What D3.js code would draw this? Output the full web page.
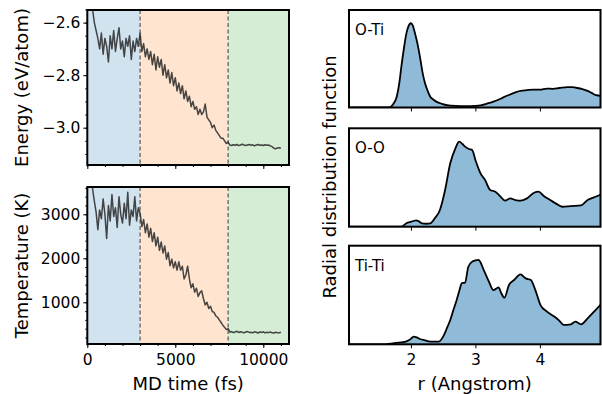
<!DOCTYPE html>
<html>
<head>
<meta charset="utf-8">
<script src="https://cdn.jsdelivr.net/npm/d3@7"></script>
<style>
  body { margin: 0; background: #fff; }
  svg { font-family: "DejaVu Sans", sans-serif; }
</style>
</head>
<body>
<svg id="chart" width="602" height="394"></svg>
<script>
// MD run, one sample every 100 fs starting at 0 fs
const timeStep = 100;
const energy = [
  -2.42, -2.47, -2.51, -2.55, -2.60, -2.63, -2.66, -2.70, -2.64, -2.72,
  -2.66, -2.69, -2.75, -2.65, -2.70, -2.63, -2.71, -2.66, -2.62, -2.70,
  -2.67, -2.73, -2.66, -2.69, -2.65, -2.74, -2.67, -2.71, -2.66, -2.69,
  -2.64, -2.71, -2.68, -2.73, -2.70, -2.74, -2.71, -2.76, -2.72, -2.78,
  -2.73, -2.77, -2.74, -2.80, -2.76, -2.81, -2.78, -2.83, -2.79, -2.84,
  -2.81, -2.86, -2.83, -2.87, -2.84, -2.89, -2.86, -2.90, -2.88, -2.92,
  -2.90, -2.93, -2.92, -2.95, -2.93, -2.95, -2.94, -2.91, -2.96, -2.97,
  -2.98, -3.00, -2.99, -3.01, -3.02, -3.03, -3.04, -3.04, -3.05, -3.06,
  -3.055, -3.066, -3.068, -3.065, -3.067, -3.064, -3.068, -3.066, -3.063, -3.066,
  -3.068, -3.066, -3.064, -3.067, -3.065, -3.069, -3.066, -3.064, -3.067, -3.066,
  -3.068, -3.065, -3.067, -3.066, -3.069, -3.072, -3.078, -3.080, -3.077, -3.076,
  -3.077
];
const temperature = [
  3950, 3850, 3720, 3580, 3300, 3050, 2650, 3100, 2900, 3350,
  3000, 2450, 3200, 2850, 3450, 2950, 3150, 2700, 3400, 3000,
  2800, 3250, 2900, 3500, 2750, 3100, 2950, 3400, 2850, 3150,
  3020, 2720, 2880, 2580, 2780, 2480, 2680, 2380, 2580, 2280,
  2480, 2180, 2370, 2120, 2280, 1980, 2130, 1830, 1980, 1780,
  1920, 1730, 1920, 1730, 1820, 1530, 1620, 1820, 1530, 1330,
  1420, 1230, 1320, 1130, 1220, 1260, 1080, 940, 1000, 860,
  910, 790, 770, 690, 660, 600, 540, 480, 430, 380,
  400, 320, 335, 310, 325, 340, 315, 330, 320, 305,
  325, 335, 315, 320, 305, 330, 320, 300, 325, 315,
  330, 305, 320, 310, 325, 305, 300, 320, 310, 305,
  320
];
const phaseEdges = [0, 3000, 8000];
const phaseColors = ["#d2e3f0", "#ffe5cf", "#d5ecd5"];
const timeTicks = [0, 5000, 10000];
const energyTicks = [-2.6, -2.8, -3.0];
const temperatureTicks = [1000, 2000, 3000];

// radial distribution functions
const rdfLabels = ["O-Ti", "O-O", "Ti-Ti"];
const rdfR = [
  [1.00, 1.60, 1.68, 1.72, 1.78, 1.82, 1.85, 1.89, 1.93, 1.96, 2.00, 2.03, 2.06, 2.10, 2.14, 2.18, 2.22, 2.26, 2.30, 2.35,
   2.40, 2.48, 2.56, 2.70, 2.85, 3.00, 3.10, 3.18, 3.28, 3.39, 3.47, 3.54, 3.62, 3.70, 3.80, 3.91, 4.00, 4.11, 4.20, 4.30,
   4.43, 4.50, 4.58, 4.66, 4.74, 4.80, 4.87, 4.96, 5.00],
  [1.00, 1.85, 1.93, 2.00, 2.04, 2.08, 2.11, 2.17, 2.24, 2.30, 2.37, 2.45, 2.53, 2.61, 2.69, 2.75, 2.80, 2.84, 2.90, 2.95,
   3.00, 3.08, 3.15, 3.23, 3.31, 3.39, 3.46, 3.54, 3.62, 3.70, 3.80, 3.91, 3.98, 4.06, 4.16, 4.27, 4.35, 4.48, 4.64, 4.74,
   4.84, 4.96, 5.00],
  [1.00, 1.60, 1.72, 1.85, 1.93, 2.00, 2.04, 2.09, 2.14, 2.22, 2.30, 2.43, 2.50, 2.55, 2.61, 2.66, 2.71, 2.75, 2.79, 2.84,
   2.89, 2.95, 3.00, 3.05, 3.13, 3.21, 3.28, 3.36, 3.40, 3.45, 3.52, 3.60, 3.70, 3.78, 3.86, 3.93, 4.01, 4.11, 4.24, 4.30,
   4.37, 4.48, 4.55, 4.64, 4.74, 4.84, 4.96, 5.00]
];
const rdfG = [
  [0, 0, 0.03, 0.3, 1.1, 2.5, 4.1, 6.0, 7.6, 8.3, 8.64, 8.4, 7.7, 6.6, 5.2, 3.6, 2.45, 1.7, 1.1, 0.8,
   0.58, 0.38, 0.24, 0.17, 0.15, 0.17, 0.25, 0.4, 0.6, 0.9, 1.15, 1.33, 1.55, 1.7, 1.78, 1.84, 1.83, 1.94, 1.92, 2.0,
   2.1, 2.08, 2.0, 1.88, 1.7, 1.5, 1.26, 1.19, 1.18],
  [0, 0, 0.35, 0.5, 0.58, 0.65, 0.6, 0.34, 0.3, 0.34, 0.85, 1.7, 3.73, 6.44, 7.97, 8.64, 8.4, 8.14, 7.9, 7.8,
   6.78, 5.42, 4.75, 3.73, 3.56, 3.05, 2.64, 2.88, 2.71, 2.64, 2.88, 3.45, 3.56, 3.12, 2.71, 2.27, 2.03, 2.1, 2.17, 2.71,
   2.98, 3.3, 3.4],
  [0, 0, 0.1, 0.2, 0.3, 0.55, 0.78, 0.7, 0.54, 0.4, 0.27, 0.27, 0.78, 1.5, 2.47, 3.5, 4.5, 5.4, 6.2, 6.25,
   7.87, 8.38, 8.5, 8.55, 7.53, 6.35, 5.5, 5.77, 5.2, 4.73, 6.01, 6.52, 7.09, 6.69, 6.52, 5.5, 3.98, 3.31, 2.74, 2.4,
   1.96, 2.03, 2.3, 2.03, 2.64, 3.31, 4.16, 4.5]
];
const rTicks = [2, 3, 4];

const svg = d3.select("#chart");
const tickFont = 15.5;
const labelFont = 18;

// left column
const left = { x0: 87.3, x1: 289 };
const x = d3.scaleLinear().domain([0, 11460]).range([left.x0, left.x1]);

function framePanel(g, x0, x1, y0, y1) {
  g.append("rect")
    .attr("x", x0).attr("y", y0)
    .attr("width", x1 - x0).attr("height", y1 - y0)
    .attr("fill", "none").attr("stroke", "#000").attr("stroke-width", 2);
}

function drawSeries(id, values, y0, y1, yDomain, yTicks, yMinor, fmt, showX) {
  const g = svg.append("g");
  const y = d3.scaleLinear().domain(yDomain).range([y1, y0]);

  g.append("clipPath").attr("id", id)
    .append("rect").attr("x", left.x0).attr("y", y0)
    .attr("width", left.x1 - left.x0).attr("height", y1 - y0);

  const edges = phaseEdges.concat([x.domain()[1]]);
  phaseColors.forEach((c, i) => {
    g.append("rect")
      .attr("x", x(edges[i])).attr("y", y0)
      .attr("width", x(edges[i + 1]) - x(edges[i])).attr("height", y1 - y0)
      .attr("fill", c);
  });

  phaseEdges.slice(1).forEach(t => {
    g.append("line")
      .attr("x1", x(t)).attr("x2", x(t)).attr("y1", y0).attr("y2", y1)
      .attr("stroke", "#4a4a4a").attr("stroke-width", 1.1)
      .attr("stroke-dasharray", "4,2.5");
  });

  const line = d3.line()
    .x((d, i) => x(i * timeStep))
    .y(d => y(d));
  g.append("path")
    .datum(values)
    .attr("clip-path", `url(#${id})`)
    .attr("d", line)
    .attr("fill", "none")
    .attr("stroke", "#2e2e2e").attr("stroke-opacity", 0.88)
    .attr("stroke-width", 1.5).attr("stroke-linejoin", "round");

  // y axis
  const ya = g.append("g").attr("transform", `translate(${left.x0},0)`)
    .call(d3.axisLeft(y).tickValues(yMinor).tickSize(2).tickFormat(""));
  ya.select(".domain").remove();
  const yb = g.append("g").attr("transform", `translate(${left.x0},0)`)
    .call(d3.axisLeft(y).tickValues(yTicks).tickSize(4).tickPadding(3).tickFormat(fmt));
  yb.select(".domain").remove();
  yb.selectAll("text").attr("font-size", tickFont).attr("font-family", "DejaVu Sans").attr("fill", "#000");

  // x axis
  const xMinor = d3.range(0, 11001, 1000);
  const xa = g.append("g").attr("transform", `translate(0,${y1})`)
    .call(d3.axisBottom(x).tickValues(xMinor).tickSize(2).tickFormat(""));
  xa.select(".domain").remove();
  const xb = g.append("g").attr("transform", `translate(0,${y1})`)
    .call(d3.axisBottom(x).tickValues(timeTicks).tickSize(4).tickPadding(6)
      .tickFormat(showX ? d3.format("d") : ""));
  xb.select(".domain").remove();
  xb.selectAll("text").attr("font-size", tickFont).attr("font-family", "DejaVu Sans").attr("fill", "#000");

  framePanel(g, left.x0, left.x1, y0, y1);
}

drawSeries("clipE", energy, 10, 165, [-3.142, -2.552], energyTicks,
  d3.range(-3.10, -2.549, 0.05), d3.format(".1f"), false);
drawSeries("clipT", temperature, 187, 344, [52, 3620], temperatureTicks,
  d3.range(200, 3601, 200), d3.format("d"), true);

svg.append("text")
  .attr("transform", "translate(28,87.5) rotate(-90)")
  .attr("text-anchor", "middle").attr("font-size", labelFont)
  .text("Energy (eV/atom)");
svg.append("text")
  .attr("transform", "translate(28,265.5) rotate(-90)")
  .attr("text-anchor", "middle").attr("font-size", labelFont)
  .text("Temperature (K)");
svg.append("text")
  .attr("x", (left.x0 + left.x1) / 2).attr("y", 390)
  .attr("text-anchor", "middle").attr("font-size", labelFont)
  .text("MD time (fs)");

// right column
const right = { x0: 349, x1: 600.5 };
const rx = d3.scaleLinear().domain([1.04, 4.94]).range([right.x0, right.x1]);
const rdfPanels = [[10, 107.5], [128.3, 226.7], [245.7, 344.3]];

rdfPanels.forEach(([y0, y1], k) => {
  const g = svg.append("g");
  const y = d3.scaleLinear().domain([0, 10]).range([y1, y0]);
  const pts = rdfR[k].map((r, i) => [r, rdfG[k][i]]);

  g.append("clipPath").attr("id", "clipR" + k)
    .append("rect").attr("x", right.x0).attr("y", y0)
    .attr("width", right.x1 - right.x0).attr("height", y1 - y0);

  const area = d3.area()
    .x(d => rx(d[0])).y0(y(0)).y1(d => y(d[1]))
    .curve(d3.curveMonotoneX);
  const line = d3.line()
    .x(d => rx(d[0])).y(d => y(d[1]))
    .curve(d3.curveMonotoneX);

  g.append("path").datum(pts)
    .attr("clip-path", `url(#clipR${k})`)
    .attr("d", area).attr("fill", "#8fbbd9");
  g.append("path").datum(pts)
    .attr("clip-path", `url(#clipR${k})`)
    .attr("d", line).attr("fill", "none")
    .attr("stroke", "#000").attr("stroke-width", 1.8).attr("stroke-linejoin", "round");

  const xa = g.append("g").attr("transform", `translate(0,${y1})`)
    .call(d3.axisBottom(rx).tickValues(rTicks).tickSize(4).tickPadding(6)
      .tickFormat(k === 2 ? d3.format("d") : ""));
  xa.select(".domain").remove();
  xa.selectAll("text").attr("font-size", tickFont).attr("font-family", "DejaVu Sans").attr("fill", "#000");

  framePanel(g, right.x0, right.x1, y0, y1);

  g.append("text")
    .attr("x", right.x0 + 6).attr("y", y0 + 25)
    .attr("font-size", 15).text(rdfLabels[k]);
});

svg.append("text")
  .attr("transform", "translate(336,177) rotate(-90)")
  .attr("text-anchor", "middle").attr("font-size", labelFont)
  .text("Radial distribution function");
svg.append("text")
  .attr("x", (right.x0 + right.x1) / 2).attr("y", 390)
  .attr("text-anchor", "middle").attr("font-size", labelFont)
  .text("r (Angstrom)");
</script>
</body>
</html>
